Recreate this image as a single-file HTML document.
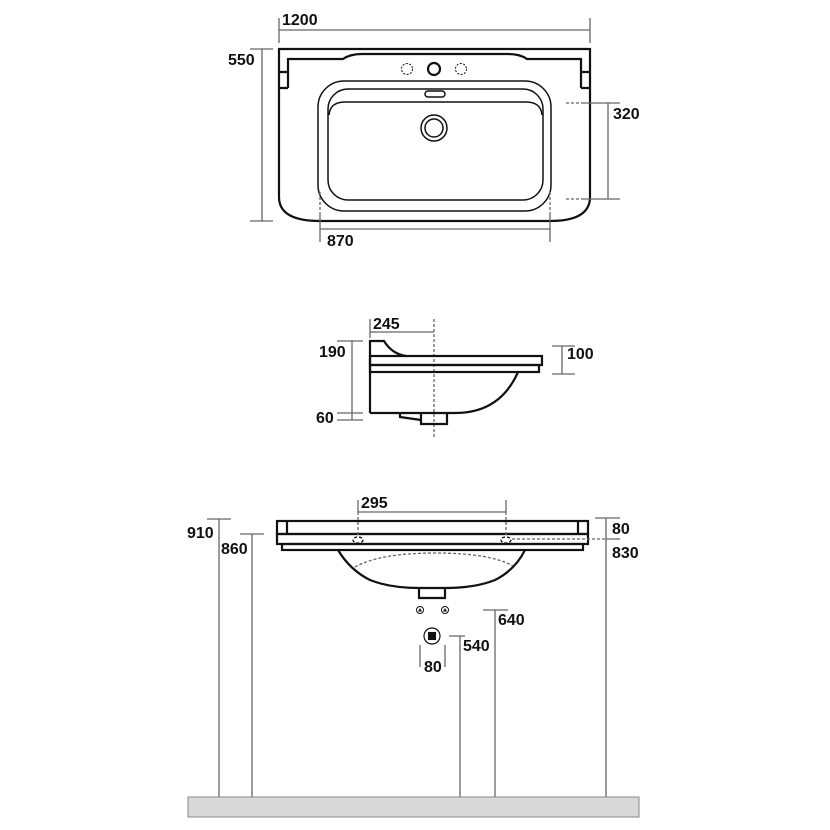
<!DOCTYPE html>
<html><head><meta charset="utf-8"><style>
html,body{margin:0;padding:0;background:#fff}
svg{display:block}
text{font-family:"Liberation Sans",Arial,sans-serif;font-weight:bold;font-size:16px;fill:#111}
.o{fill:none;stroke:#111;stroke-width:2.2}
.d{fill:none;stroke:#666;stroke-width:1.3}
.ds{fill:none;stroke:#666;stroke-width:1.3;stroke-dasharray:3,2}
</style></head><body>
<svg width="830" height="830" viewBox="0 0 830 830" xmlns="http://www.w3.org/2000/svg">
<!-- TOP VIEW -->
<path class="d" d="M279 18V43M590 18V43M279 30H590"/>
<text x="282" y="25">1200</text>
<path class="o" d="M279 49H590V197Q590 221 550 221H320Q279 221 279 197Z"/>
<path class="o" d="M288 88V59H343Q350 54 362 54H508Q520 54 527 59H581V88"/>
<path class="o" d="M279 72H288M279 88H288M581 72H590M581 88H590"/>
<circle cx="407" cy="69" r="5.5" fill="none" stroke="#111" stroke-width="1" stroke-dasharray="2,1.5"/>
<circle cx="434" cy="69" r="6" class="o"/>
<circle cx="461" cy="69" r="5.5" fill="none" stroke="#111" stroke-width="1" stroke-dasharray="2,1.5"/>
<rect x="318" y="81" width="233" height="130" rx="26" class="o" style="stroke-width:1.5"/>
<rect x="328" y="89" width="215" height="111" rx="20" class="o" style="stroke-width:1.5"/>
<path class="o" style="stroke-width:1.5" d="M329 115Q330 102 345 102H526Q541 102 542 115"/>
<rect x="425" y="91" width="20" height="6" rx="3" class="o" style="stroke-width:1.5"/>
<circle cx="434" cy="128" r="13" class="o" style="stroke-width:1.5"/>
<circle cx="434" cy="128" r="9" class="o" style="stroke-width:1.5"/>
<path class="ds" d="M566 103H582M566 199H582"/>
<path class="d" d="M582 103H620M582 199H620M608 103V199"/>
<text x="613" y="119">320</text>
<path class="d" d="M250 49H273M250 221H273M262 49V221"/>
<text x="228" y="65">550</text>
<path class="ds" d="M320 192V214M550 192V214"/>
<path class="d" d="M320 214V242M550 214V242M320 229H550"/>
<text x="327" y="246">870</text>

<!-- SIDE VIEW -->
<path class="d" d="M370 319V338M370 332H434"/>
<text x="373" y="329">245</text>
<path class="ds" d="M434 319V438"/>
<path class="o" d="M370 413V341H384Q392 354 406 356"/>
<rect x="370" y="356" width="172" height="9" class="o"/>
<rect x="370" y="365" width="169" height="7" class="o"/>
<path class="o" d="M518 372Q500 413 455 413H370"/>
<path class="o" d="M421 413V424H447V413M400 413L400 417L421 420"/>
<path class="d" d="M337 341H363M337 413H363M337 420H363M352 341V420"/>
<text x="319" y="357">190</text>
<text x="316" y="423">60</text>
<path class="d" d="M552 346H575M552 374H575M562 346V374"/>
<text x="567" y="359">100</text>

<!-- FRONT VIEW -->
<path class="d" d="M358 500V512M506 500V512M358 512H506"/>
<text x="361" y="508">295</text>
<rect x="277" y="521" width="311" height="13" class="o"/>
<path class="o" d="M287 521V534M578 521V534"/>
<rect x="277" y="534" width="311" height="10" class="o"/>
<rect x="282" y="544" width="301" height="6" class="o"/>
<path class="o" d="M338 550Q350 570 370 580Q390 588 420 588H445Q475 588 495 580Q515 570 525 550"/>
<path class="o" d="M419 588V598H445V588"/>
<path class="ds" d="M355 567Q380 553 435 553Q490 553 513 566"/>
<ellipse cx="358" cy="540" rx="5" ry="3" class="ds" style="stroke:#111"/>
<ellipse cx="506" cy="540" rx="5" ry="3" class="ds" style="stroke:#111"/>
<path class="ds" d="M358 512V536M506 512V536M512 539H606"/>
<circle cx="420" cy="610" r="3.5" fill="none" stroke="#111" stroke-width="1"/>
<path d="M418 611.5L420 608L422 611.5Z" fill="#111"/>
<circle cx="445" cy="610" r="3.5" fill="none" stroke="#111" stroke-width="1"/>
<path d="M443 611.5L445 608L447 611.5Z" fill="#111"/>
<circle cx="432" cy="636" r="8" fill="none" stroke="#111" stroke-width="1.2"/>
<rect x="428" y="632" width="8" height="8" fill="#111"/>
<path class="d" d="M420 645V667M445 645V667"/>
<text x="424" y="672">80</text>
<path class="d" d="M449 636H465M460 636V797"/>
<text x="463" y="651">540</text>
<path class="d" d="M483 610H508M495 610V797"/>
<text x="498" y="625">640</text>
<path class="d" d="M595 518H620M606 518V797M606 539H620"/>
<text x="612" y="534">80</text>
<text x="612" y="558">830</text>
<path class="d" d="M207 519H231M219 519V797"/>
<text x="187" y="538">910</text>
<path class="d" d="M240 534H264M252 534V797"/>
<text x="221" y="554">860</text>
<rect x="188" y="797" width="451" height="20" fill="#d9d9d9" stroke="#888" stroke-width="1"/>
</svg>
</body></html>
